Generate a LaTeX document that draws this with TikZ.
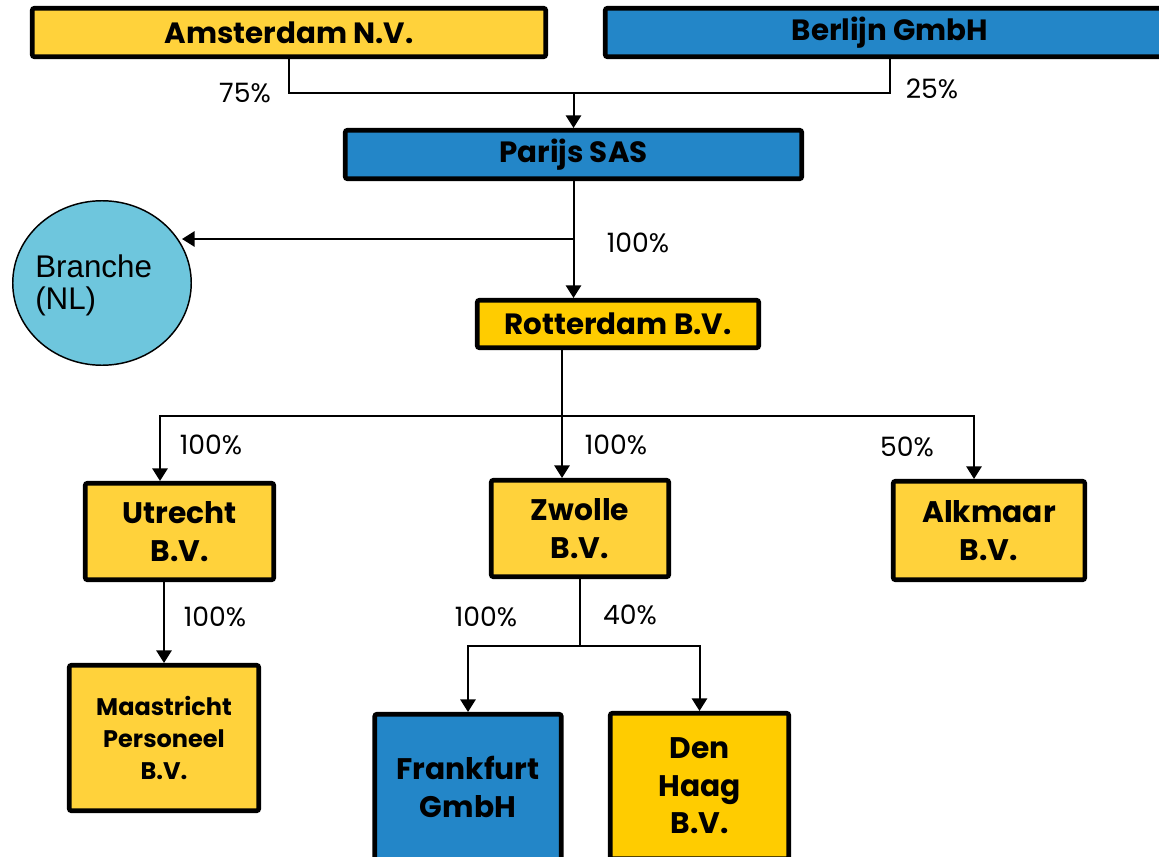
\documentclass[tikz,border=0pt]{standalone}
\usepackage{fontspec}
\usetikzlibrary{arrows.meta,shapes.geometric,calc}
\newfontfamily\orgfont{Poppins}
\newfontfamily\pctfont{Poppins}
\newfontfamily\arialfont{Liberation Sans}
\definecolor{goldA}{HTML}{FFD23B}
\definecolor{goldB}{HTML}{FFCC00}
\definecolor{corpblue}{HTML}{2386C8}
\definecolor{branchcyan}{HTML}{6EC6DD}
\tikzset{
  entity/.style={draw=black, line width=3.4pt, rounded corners=1.5pt,
    align=center, inner sep=0pt, text=black},
  dims/.style 2 args={minimum width=#1*0.75pt, minimum height=#2*0.75pt},
  wide/.style={font=\orgfont\bfseries\fontsize{22}{24}\selectfont},
  tall/.style={font=\orgfont\bfseries\fontsize{22.3}{28}\selectfont},
  small/.style={font=\orgfont\bfseries\fontsize{18}{24}\selectfont},
  pct/.style={font=\pctfont\fontsize{20}{24}\selectfont, inner sep=0pt},
  conn/.style={draw=black, line width=1.5pt},
  arr/.style={conn, -{Triangle[length=9.5pt,width=11.5pt]}},
}
\begin{document}
\begin{tikzpicture}[x=0.75pt,y=-0.75pt]
\useasboundingbox (0,0) rectangle (1159,856);
\clip (0,0) rectangle (1159,856);

% shareholders
\node[entity, wide, fill=goldA, dims={513.5}{48.5}] (ams) at (289,32.5) {Amsterdam N.V.};
\node[entity, wide, fill=corpblue, dims={569.5}{48.5}] (ber) at (890,32.5) {Berlijn GmbH};

% holding and branch
\node[entity, wide, fill=corpblue, dims={456.5}{48.5}] (par) at (573.5,154.5) {Parijs SAS};
\node[ellipse, draw=black, line width=1.1pt, fill=branchcyan,
      minimum width=178.5*0.75pt, minimum height=164.5*0.75pt, inner sep=0pt] (br) at (102,283) {};
\node[anchor=west, align=left, inner sep=0pt,
      font=\arialfont\fontsize{23.5}{24}\selectfont] (brtxt) at (35,285) {Branche\\(NL)};
\node[entity, wide, fill=goldB, dims={281.5}{47.5}] (rot) at (618,324) {Rotterdam B.V.};

% subsidiaries
\node[entity, tall, fill=goldA, dims={188.5}{96.5}] (utr) at (179.5,531.5) {Utrecht\\B.V.};
\node[entity, tall, fill=goldA, dims={177.5}{96.5}] (zwo) at (580,528.5) {Zwolle\\B.V.};
\node[entity, tall, fill=goldA, dims={191.5}{98.5}] (alk) at (989,530.5) {Alkmaar\\B.V.};
\node[entity, small, fill=goldA, dims={189.5}{145.5}] (maa) at (164,738) {Maastricht\\Personeel\\B.V.};
\node[entity, tall, fill=corpblue, dims={186.5}{145.5}] (fra) at (468,787) {Frankfurt\\GmbH};
\node[entity, tall, fill=goldB, dims={178.5}{145.5}] (dh) at (699.5,786) {Den\\Haag\\B.V.};

% junction points of the connectors
\coordinate (topbus) at (573.5,93);
\coordinate (brj) at (573.5,239);
\coordinate (brin) at (182,239);
\coordinate (midbus) at (562,416);
\coordinate (lowbus) at (580,645.5);

% ownership lines
\draw[conn] (ams.south) |- (ber.south |- topbus) -- (ber.south);
\draw[arr] (topbus) -- (topbus |- par.north);
\draw[arr] (topbus |- par.south) -- (topbus |- rot.north);
\draw[arr] (brj) -- (brin);
\draw[conn] (midbus |- rot.south) -- (midbus);
\draw[arr] (midbus) -- (midbus |- zwo.north);
\draw[arr] (midbus) -| ($(utr.north)+(-19.5,0)$);
\draw[arr] (midbus) -| ($(alk.north)+(-15,0)$);
\draw[arr] (maa.north |- utr.south) -- (maa.north);
\draw[conn] (zwo.south) -- (lowbus);
\draw[arr] (lowbus) -| (fra.north);
\draw[arr] (lowbus) -| (dh.north);

% percentages
\node[pct] (p1) at (245,93) {75\%};
\node[pct] (p2) at (932,89) {25\%};
\node[pct] (p3) at (638,243) {100\%};
\node[pct] (p4) at (211,445) {100\%};
\node[pct] (p5) at (616,445) {100\%};
\node[pct] (p6) at (907,447) {50\%};
\node[pct] (p7) at (215,617) {100\%};
\node[pct] (p8) at (486,617) {100\%};
\node[pct] (p9) at (630,615) {40\%};
\end{tikzpicture}
\end{document}
